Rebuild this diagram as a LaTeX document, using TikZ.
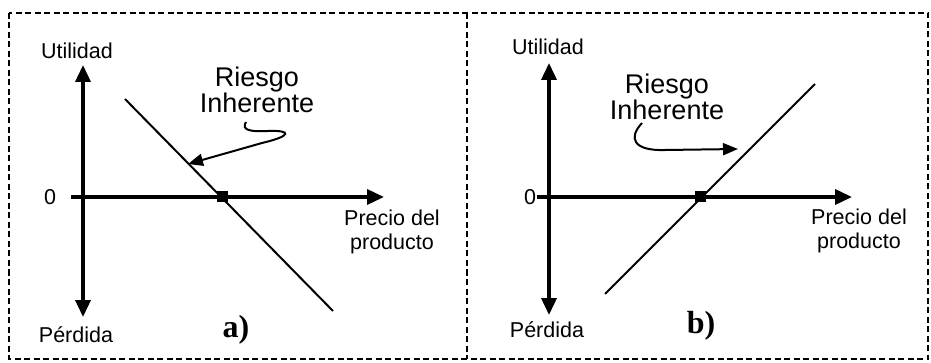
\documentclass[tikz,border=0pt]{standalone}
\usepackage{fontspec}
\setmainfont{Liberation Sans}
\newfontfamily\serifbf{Liberation Serif}
\usetikzlibrary{arrows.meta}
\tikzset{
  lbl/.style={inner sep=0pt, font=\fontsize{21.5}{24}\selectfont, align=center},
  risk/.style={inner sep=0pt, font=\fontsize{27}{25}\selectfont, align=center},
  panel/.style={inner sep=0pt, font=\serifbf\bfseries\fontsize{32}{32}\selectfont},
  axis/.style={line width=3.6pt, -{Triangle[length=17pt,width=15pt]}},
  price/.style={line width=2pt},
  pointer/.style={line width=2pt, -{Triangle[length=15pt,width=12pt]}},
  marker/.style={fill=black, minimum size=11pt, inner sep=0pt},
  frame/.style={dash pattern=on 6pt off 3.5pt, line width=1.5pt}
}
\begin{document}
\begin{tikzpicture}[x=1pt,y=-1pt]
\useasboundingbox (0,0) rectangle (931,363);
% frame
\draw[frame] (9,13) rectangle (928,359);
\draw[frame] (467,13) -- (467,359);

% ---------- panel a ----------
\coordinate (aO) at (83,197);
\coordinate (aT) at (83,65);
\coordinate (aB) at (83,317);
\coordinate (aL) at (71,197);
\coordinate (aR) at (384,197);
\draw[axis] (aO) -- (aT);
\draw[axis] (aO) -- (aB);
\draw[axis] (aL) -- (aR);
\node[lbl] (aU) at (77,51) {Utilidad};
\node[lbl] (aP) at (76,335) {Pérdida};
\node[lbl] (aZ) at (50,197) {0};
\node[lbl] (aX) at (392,232) {Precio del\\producto};
\node[panel] (aLab) at (236,330) {a)};
\node[risk] (aRisk) at (257,90) {Riesgo\\Inherente};
\coordinate (aS) at (125,99);
\coordinate (aE) at (333,311);
\draw[price] (aS) -- (aE);
\node[marker] (aM) at (222,197) {};
\coordinate (aQ0) at (246,122);
\coordinate (aQ1) at (188,164);
\draw[pointer] (aQ0) .. controls (241,130) and (250,132) .. (268,131)
  .. controls (292,130) and (292,136) .. (262,143) -- (aQ1);

% ---------- panel b ----------
\coordinate (bO) at (549,197);
\coordinate (bT) at (549,63);
\coordinate (bB) at (549,315);
\coordinate (bL) at (537,197);
\coordinate (bR) at (852,197);
\draw[axis] (bO) -- (bT);
\draw[axis] (bO) -- (bB);
\draw[axis] (bL) -- (bR);
\node[lbl] (bU) at (548,47) {Utilidad};
\node[lbl] (bP) at (547,330) {Pérdida};
\node[lbl] (bZ) at (530,197) {0};
\node[lbl] (bX) at (859,231) {Precio del\\producto};
\node[panel] (bLab) at (701,326) {b)};
\node[risk] (bRisk) at (667,97) {Riesgo\\Inherente};
\coordinate (bS) at (605,294);
\coordinate (bE) at (815,84);
\draw[price] (bS) -- (bE);
\node[marker] (bM) at (700,197) {};
\coordinate (bQ0) at (642,123);
\coordinate (bQ1) at (738,149);
\draw[pointer] (bQ0) .. controls (628,138) and (633,151) .. (665,150) -- (bQ1);
\end{tikzpicture}
\end{document}
